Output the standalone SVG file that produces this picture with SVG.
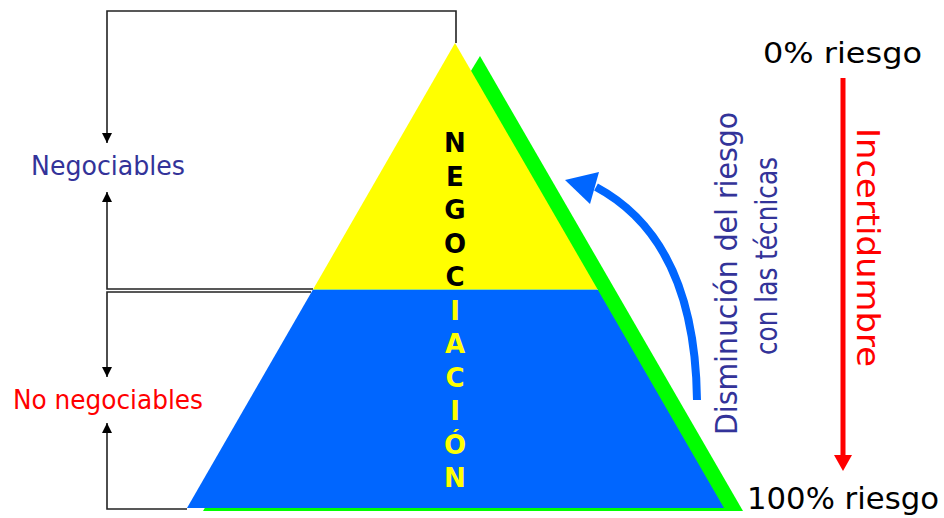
<svg xmlns="http://www.w3.org/2000/svg" width="944" height="518" viewBox="0 0 944 518">
<defs>
<style>
.t{font-family:"DejaVu Sans","Liberation Sans",sans-serif;}
.br{fill:none;stroke:#222;stroke-width:1.6;}
.lt{font-family:"DejaVu Sans","Liberation Sans",sans-serif;font-size:26px;font-weight:bold;text-anchor:middle;}
</style>
<marker id="ah" markerUnits="userSpaceOnUse" markerWidth="10" markerHeight="12" refX="10" refY="5" orient="auto" viewBox="0 0 10 10">
<path d="M0,0 L10,5 L0,10 Z" fill="#000"/>
</marker>
</defs>
<rect width="944" height="518" fill="#fff"/>
<g id="connectors">
<path class="br" d="M456,43 V11 H107 V143" marker-end="url(#ah)"/>
<path class="br" d="M313,289 H107 V192" marker-end="url(#ah)"/>
<path class="br" d="M311,292 H107 V377" marker-end="url(#ah)"/>
<path class="br" d="M187,509 H107 V423" marker-end="url(#ah)"/>
</g>
<g id="pyramid">
<polygon points="480,56 743,511 203,511 " fill="#00ff00"/>
<polygon points="312.7,290 597.9,290 724,508 187,508" fill="#0066ff"/>
<polygon points="455,43 597.4,289 313.3,289" fill="#ffff00"/>
<line x1="313" y1="289.5" x2="598" y2="289.5" stroke="#8fdc8f" stroke-width="1"/>
</g>
<g id="negociacion">
<text class="lt" x="455" y="152" fill="#000">N</text>
<text class="lt" x="455" y="185.5" fill="#000">E</text>
<text class="lt" x="455" y="219" fill="#000">G</text>
<text class="lt" x="455" y="252.5" fill="#000">O</text>
<text class="lt" x="455" y="286" fill="#000">C</text>
<text class="lt" x="455" y="319.5" fill="#ffff00">I</text>
<text class="lt" x="455" y="353" fill="#ffff00">A</text>
<text class="lt" x="455" y="386.5" fill="#ffff00">C</text>
<text class="lt" x="455" y="420" fill="#ffff00">I</text>
<text class="lt" x="455" y="453.5" fill="#ffff00">Ó</text>
<text class="lt" x="455" y="487" fill="#ffff00">N</text>
</g>
<g id="negociables">
<text class="t" x="31" y="175" font-size="26" fill="#333399" textLength="154" lengthAdjust="spacingAndGlyphs">Negociables</text>
</g>
<g id="no-negociables">
<text class="t" x="13" y="409" font-size="26" fill="#ff0000" textLength="190" lengthAdjust="spacingAndGlyphs">No negociables</text>
</g>
<g id="disminucion">
<path d="M697,400 Q695,240 596,187" fill="none" stroke="#0066ff" stroke-width="8"/>
<polygon points="565,180 599,172 590,204" fill="#0066ff"/>
<text class="t" transform="translate(737,435) rotate(-90)" font-size="31" fill="#333399" textLength="323" lengthAdjust="spacingAndGlyphs">Disminución del riesgo</text>
<text class="t" transform="translate(777,355) rotate(-90)" font-size="30" fill="#333399" textLength="198" lengthAdjust="spacingAndGlyphs">con las técnicas</text>
</g>
<g id="incertidumbre">
<line x1="843" y1="78" x2="843" y2="457" stroke="#ff0000" stroke-width="5"/>
<polygon points="834,455 852,455 843,471" fill="#ff0000"/>
<text class="t" transform="translate(857,128) rotate(90)" font-size="32" fill="#ff0000" textLength="239" lengthAdjust="spacingAndGlyphs">Incertidumbre</text>
</g>
<g id="riesgo-0">
<text class="t" x="763" y="63" font-size="29" fill="#000" textLength="159" lengthAdjust="spacingAndGlyphs">0% riesgo</text>
</g>
<g id="riesgo-100">
<text class="t" x="747" y="509" font-size="31" fill="#000" textLength="192" lengthAdjust="spacingAndGlyphs">100% riesgo</text>
</g>
</svg>
